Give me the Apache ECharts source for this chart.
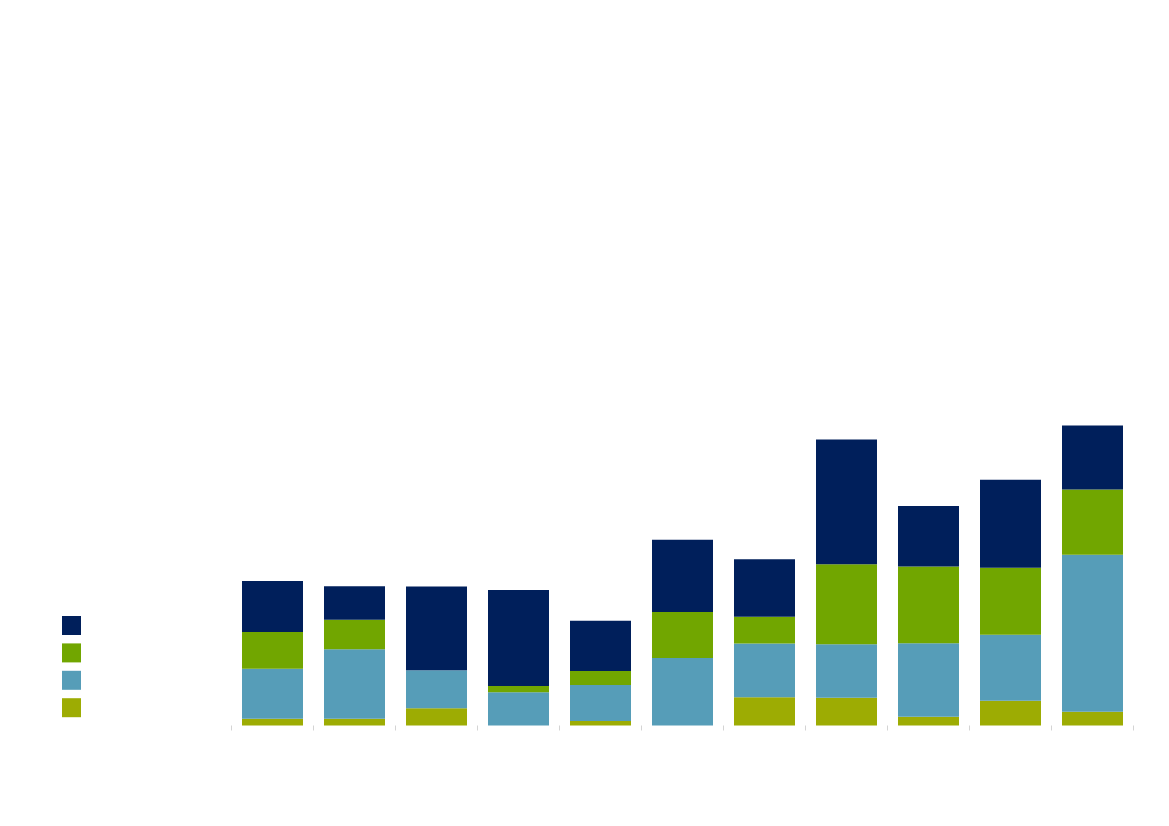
<!DOCTYPE html>
<html>
<head>
<meta charset="utf-8">
<script src="https://cdn.jsdelivr.net/npm/echarts@6/dist/echarts.min.js"></script>
<style>
html,body{margin:0;padding:0;background:#ffffff;}
#chart{width:1169px;height:826px;}
</style>
</head>
<body>
<div id="chart"></div>
<script>
// Categories (no visible labels in the reference)
var categories = ['1','2','3','4','5','6','7','8','9','10','11'];

// Series values (stacked, bottom to top)
var olive = [1.9, 1.9, 4.9, 0, 1.3, 0, 8.1, 7.9, 2.5, 7.1, 3.9];
var blue  = [14.3, 19.9, 10.9, 9.5, 10.3, 19.3, 15.3, 15.3, 21.0, 18.8, 44.9];
var green = [10.5, 8.4, 0, 1.8, 4.0, 13.1, 7.7, 22.9, 21.9, 19.2, 18.6];
var navy  = [14.6, 9.6, 23.9, 27.4, 14.3, 20.7, 16.4, 35.6, 17.3, 25.1, 18.3];

var seriesNames = ['S4', 'S3', 'S2', 'S1'];
var colors = ['#9dac03', '#569db8', '#71a600', '#001f5b'];

var chart = echarts.init(document.getElementById('chart'), null, {renderer: 'canvas'});
var dataSets = [olive, blue, green, navy];

chart.setOption({
  animation: false,
  backgroundColor: '#ffffff',
  grid: {left: 231.5, right: 35.5, top: 25.5, bottom: 100.5},
  legend: {
    orient: 'vertical',
    left: 62,
    top: 616,
    padding: 0,
    itemWidth: 19,
    itemHeight: 19,
    itemGap: 8.4,
    icon: 'rect',
    data: ['S1', 'S2', 'S3', 'S4'],
    formatter: function () { return ''; },
    textStyle: {fontSize: 1}
  },
  xAxis: {
    type: 'category',
    data: categories,
    axisLine: {show: false},
    axisTick: {show: true, length: 5, lineStyle: {color: '#d4d4d4', width: 1}},
    axisLabel: {show: false},
    splitLine: {show: false}
  },
  yAxis: {
    type: 'value',
    min: 0,
    max: 200,
    show: false,
    splitLine: {show: false}
  },
  series: dataSets.map(function (d, i) {
    return {
      name: seriesNames[i],
      type: 'bar',
      stack: 'total',
      barWidth: 61,
      data: d,
      itemStyle: {color: colors[i]}
    };
  })
});
</script>
</body>
</html>
